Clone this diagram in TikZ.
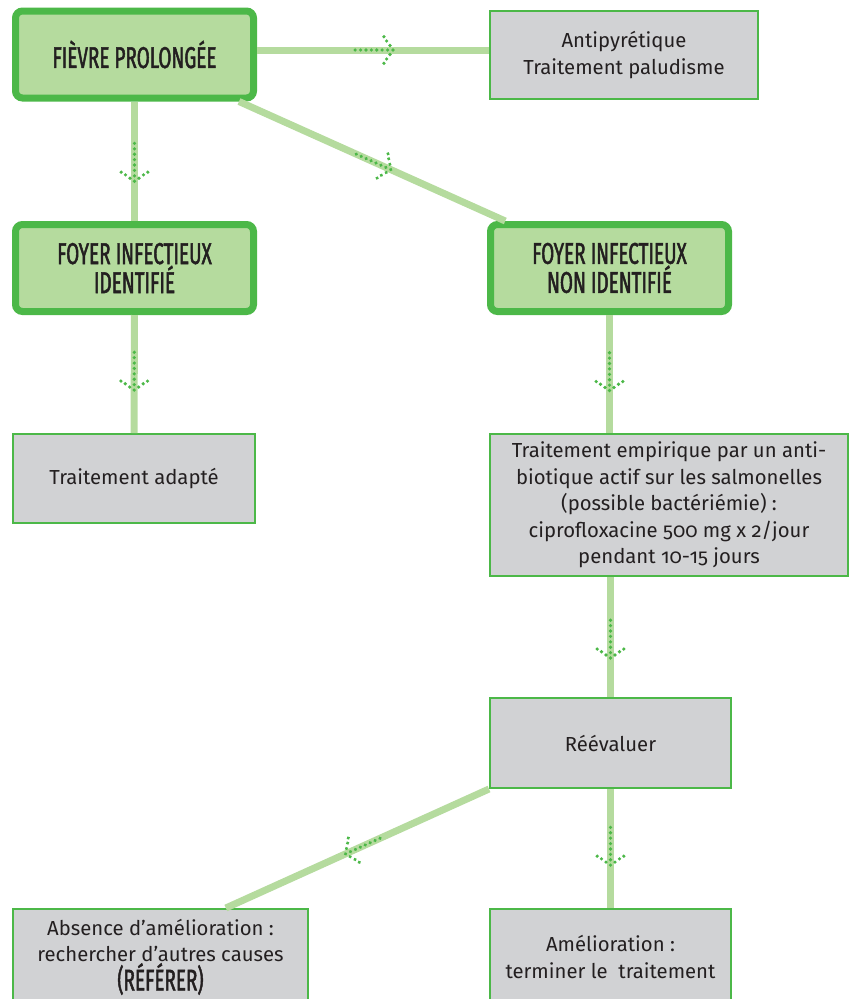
\documentclass[tikz,border=0pt]{standalone}
\usepackage{fontspec}
\setmainfont{Fira Sans}[Numbers=OldStyle]
\newfontfamily\headfont{Fira Sans}[FakeStretch=0.63, FakeBold=1.6]
\usetikzlibrary{calc}
\definecolor{dgreen}{HTML}{4CB848}
\definecolor{lgreen}{HTML}{B5DB9E}
\definecolor{boxgray}{HTML}{D1D2D4}
\definecolor{ink}{HTML}{231F20}
\tikzset{
  headbox/.style={draw=dgreen, line width=7pt, fill=lgreen, rounded corners=7pt,
    minimum width=238pt, minimum height=87pt, align=center, text=ink, inner sep=0pt,
    font=\headfont\fontsize{30}{29}\selectfont},
  infobox/.style={draw=dgreen, line width=2pt, fill=boxgray, align=center, text=ink,
    inner sep=0pt, font=\fontsize{20.3}{26.5}\selectfont},
  link/.style={draw=lgreen, line width=7pt},
  dotarrow/.pic={
    \foreach \k in {0,...,7} \fill[dgreen] (-5.4*\k,0) circle[radius=1.8pt];
    \foreach \a/\b in {3/4.5, 6.3/9, 9/13.3} {
      \fill[dgreen] (-\a,\b) circle[radius=1.8pt];
      \fill[dgreen] (-\a,-\b) circle[radius=1.8pt];
    }
  },
  onlink/.style={pos=#1, sloped, allow upside down}
}
\begin{document}
\begin{tikzpicture}[x=1pt,y=-1pt]
  \useasboundingbox (0,0) rectangle (850,999);
  \clip (0,0) rectangle (850,999);

  % decision boxes
  \node[headbox] (fp)  at (134.5,54.5) {FIÈVRE PROLONGÉE};
  \node[headbox] (fi)  at (134.5,268)  {FOYER INFECTIEUX\\IDENTIFIÉ};
  \node[headbox] (fni) at (609.5,268)  {FOYER INFECTIEUX\\NON IDENTIFIÉ};

  % action boxes
  \node[infobox, minimum width=268pt, minimum height=88pt] (anti) at (624,55)
    {Antipyrétique\\Traitement paludisme};
  \node[infobox, minimum width=242pt, minimum height=89pt] (adapt) at (134,478.5)
    {Traitement adapté};
  \node[infobox, minimum width=358pt, minimum height=142pt] (emp) at (669,505)
    {Traitement empirique par un anti-\\biotique actif sur les salmonelles\\(possible bactériémie) :\\ciprofloxacine 500 mg x 2/jour\\pendant 10-15 jours};
  \node[infobox, minimum width=241pt, minimum height=90pt] (reev) at (610.5,743)
    {Réévaluer};
  \node[infobox, minimum width=295pt, minimum height=96pt] (abs) at (160.5,957)
    {Absence d’amélioration :\\rechercher d’autres causes\\{\headfont\fontsize{30}{28}\selectfont (RÉFÉRER)}};
  \node[infobox, minimum width=241pt, minimum height=96pt] (amel) at (610.5,957)
    {Amélioration :\\terminer le~ traitement};

  % connectors with dotted arrows
  \draw[link] ([yshift=4.5pt]fp.east) -- ([yshift=4.5pt]fp.east -| anti.west)
    pic[onlink=0.586]{dotarrow};
  \draw[link] (fp) -- (fi) pic[onlink=0.667]{dotarrow};
  \draw[link] (fp) -- (fni) pic[onlink=0.57]{dotarrow};
  \draw[link] (fi) -- (adapt) pic[onlink=0.636]{dotarrow};
  \draw[link] (fni.south) -- (fni.south |- emp.north) pic[onlink=0.64]{dotarrow};
  \draw[link] (reev.north |- emp.south) -- (reev.north) pic[onlink=0.675]{dotarrow};
  \draw[link] (reev) -- (amel) pic[onlink=0.64]{dotarrow};
  \draw[link] (reev.south west) -- ($(abs.north west)!0.72!(abs.north east)$)
    pic[onlink=0.545]{dotarrow};
\end{tikzpicture}
\end{document}
